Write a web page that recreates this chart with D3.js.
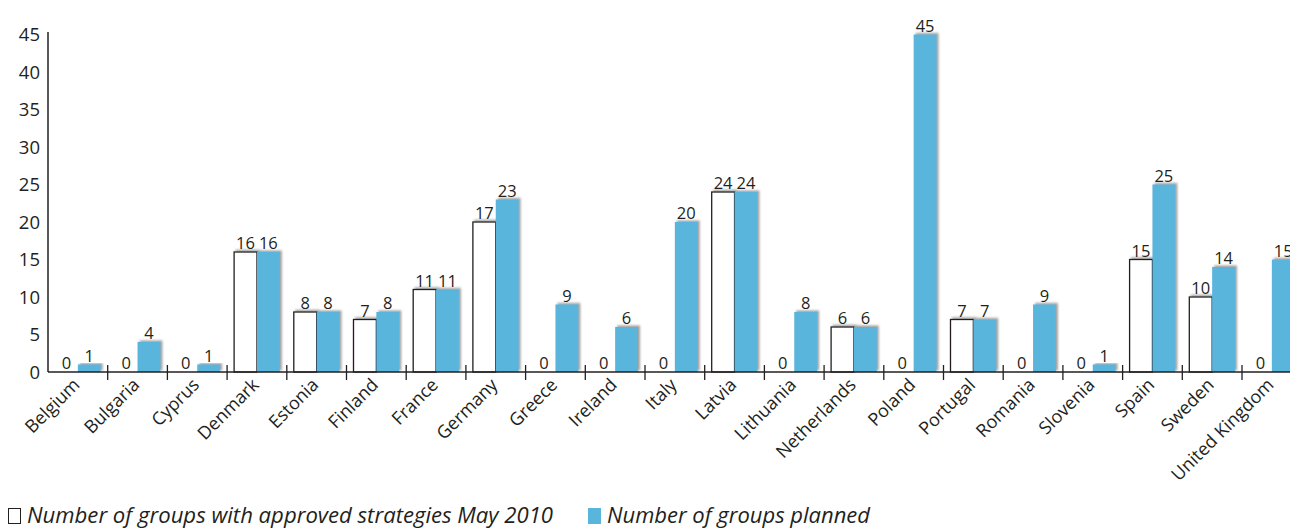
<!DOCTYPE html>
<meta charset="utf-8">
<head>
  <style>
    body { margin: 0; background: #fff; }
    text { font-family: "Open Sans", sans-serif; fill: #231f20; }
  </style>
  <script src="https://cdn.jsdelivr.net/npm/d3@7"></script>
</head>
<body>
<script>
  const countries = ["Belgium", "Bulgaria", "Cyprus", "Denmark", "Estonia", "Finland", "France",
    "Germany", "Greece", "Ireland", "Italy", "Latvia", "Lithuania", "Netherlands", "Poland",
    "Portugal", "Romania", "Slovenia", "Spain", "Sweden", "United Kingdom"];
  // bar heights as drawn in the source (Germany's bar stands at 20 but is labelled 17)
  const approved = [0, 0, 0, 16, 8, 7, 11, 20, 0, 0, 0, 24, 0, 6, 0, 7, 0, 0, 15, 10, 0];
  const approvedLabels = [0, 0, 0, 16, 8, 7, 11, 17, 0, 0, 0, 24, 0, 6, 0, 7, 0, 0, 15, 10, 0];
  const planned = [1, 4, 1, 16, 8, 8, 11, 23, 9, 6, 20, 24, 8, 6, 45, 7, 9, 1, 25, 14, 15];
  const yTicks = [0, 5, 10, 15, 20, 25, 30, 35, 40, 45];
  const legendLabels = ["Number of groups with approved strategies May 2010", "Number of groups planned"];

  const W = 1290, H = 530;
  const blue = "#5ab5dd";

  const svg = d3.select("body").append("svg")
    .attr("width", W).attr("height", H);

  const defs = svg.append("defs");
  defs.append("filter").attr("id", "shadow")
    .attr("x", "-20%").attr("y", "-20%").attr("width", "140%").attr("height", "140%")
    .append("feDropShadow")
    .attr("dx", 2).attr("dy", -1.5).attr("stdDeviation", 1.2)
    .attr("flood-color", "#777").attr("flood-opacity", 0.7);

  const x = d3.scaleBand().domain(countries).range([48, 48 + 21 * 59.7]);
  const inner = d3.scaleBand().domain(["a", "p"]).range([7, x.bandwidth() - 7]);
  const y = d3.scaleLinear().domain([0, 45]).range([372, 34.5]);

  // y axis
  svg.append("line")
    .attr("x1", 48).attr("x2", 48).attr("y1", 32).attr("y2", 372)
    .attr("stroke", "#231f20").attr("stroke-width", 1.5);
  svg.selectAll(".ytick").data(yTicks).join("text")
    .attr("class", "ytick")
    .attr("x", 40).attr("y", d => y(d) + 6.5)
    .attr("text-anchor", "end")
    .style("font-size", "18.5px")
    .text(d => d);

  const g = svg.append("g");
  const rows = countries.map((c, i) => ({c, a: approved[i], al: approvedLabels[i], p: planned[i]}));

  // approved bars (white)
  g.selectAll(".a").data(rows).join("rect")
    .attr("class", "a")
    .attr("x", d => x(d.c) + inner("a"))
    .attr("width", inner.bandwidth())
    .attr("y", d => y(d.a))
    .attr("height", d => y(0) - y(d.a))
    .attr("fill", "#fff")
    .attr("stroke", "#231f20").attr("stroke-width", d => d.a ? 1.3 : 2)
    .attr("filter", "url(#shadow)");

  // planned bars (blue)
  g.selectAll(".p").data(rows).join("rect")
    .attr("class", "p")
    .attr("x", d => x(d.c) + inner("p"))
    .attr("width", inner.bandwidth())
    .attr("y", d => y(d.p))
    .attr("height", d => y(0) - y(d.p))
    .attr("fill", blue)
    .attr("filter", "url(#shadow)");

  // x axis baseline and ticks
  svg.append("line")
    .attr("x1", 48).attr("x2", W).attr("y1", 372).attr("y2", 372)
    .attr("stroke", "#231f20").attr("stroke-width", 1.5);
  svg.selectAll(".xtick").data(countries.slice(1)).join("line")
    .attr("class", "xtick")
    .attr("x1", d => x(d)).attr("x2", d => x(d))
    .attr("y1", 365).attr("y2", 380)
    .attr("stroke", "#231f20").attr("stroke-width", 1.3);

  // value labels
  g.selectAll(".la").data(rows).join("text")
    .attr("class", "la")
    .attr("x", d => x(d.c) + inner("a") + inner.bandwidth() / 2)
    .attr("y", d => y(d.a) - 3)
    .attr("text-anchor", "middle")
    .style("font-size", "16.5px")
    .text(d => d.al);
  g.selectAll(".lp").data(rows).join("text")
    .attr("class", "lp")
    .attr("x", d => x(d.c) + inner("p") + inner.bandwidth() / 2)
    .attr("y", d => y(d.p) - 3)
    .attr("text-anchor", "middle")
    .style("font-size", "16.5px")
    .text(d => d.p);

  // category labels
  svg.selectAll(".xl").data(countries).join("text")
    .attr("class", "xl")
    .attr("text-anchor", "end")
    .attr("transform", d => `translate(${x(d) + x.bandwidth() / 2 + 3},${386}) rotate(-45)`)
    .style("font-size", "18px")
    .text(d => d);

  // legend
  const leg = svg.append("g");
  leg.append("rect").attr("x", 8.5).attr("y", 508.5).attr("width", 12).attr("height", 15)
    .attr("fill", "#fff").attr("stroke", "#231f20").attr("stroke-width", 1);
  leg.append("text").attr("x", 27).attr("y", 523)
    .style("font-size", "22px").style("font-style", "italic")
    .attr("textLength", 526).attr("lengthAdjust", "spacingAndGlyphs")
    .text(legendLabels[0]);
  leg.append("rect").attr("x", 588).attr("y", 508).attr("width", 13).attr("height", 16)
    .attr("fill", blue);
  leg.append("text").attr("x", 607).attr("y", 523)
    .style("font-size", "22px").style("font-style", "italic")
    .attr("textLength", 263).attr("lengthAdjust", "spacingAndGlyphs")
    .text(legendLabels[1]);
</script>
</body>
</html>
